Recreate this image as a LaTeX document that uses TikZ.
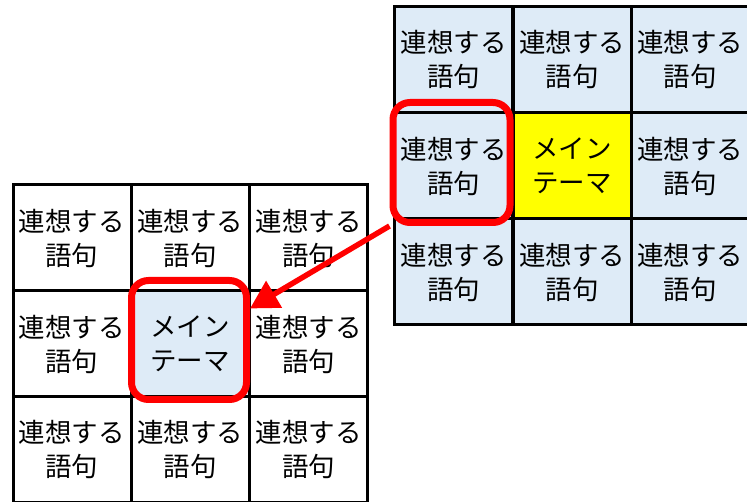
\documentclass[tikz,border=0pt]{standalone}
\usepackage{fontspec}
\setmainfont{Noto Sans CJK JP}
\usetikzlibrary{arrows.meta,calc}
\definecolor{cellblue}{HTML}{DEEBF7}
\definecolor{hlred}{HTML}{FF0000}
\definecolor{mainyellow}{HTML}{FFFF00}
\tikzset{
  cell/.style={draw=black, line width=3pt, minimum width=118pt, minimum height=106pt,
    inner sep=0pt, align=center, font=\fontsize{26.5}{34}\selectfont, text=black},
  bluecell/.style={cell, fill=cellblue},
  whitecell/.style={cell, fill=white},
  yellowcell/.style={cell, fill=mainyellow},
  redbox/.style={draw=hlred, line width=7pt, rounded corners=17pt, inner sep=0pt},
  redarrow/.style={draw=hlred, line width=5.5pt, -{Triangle[length=28pt,width=30pt]}}
}
\begin{document}
\begin{tikzpicture}[x=1pt,y=-1pt]
\useasboundingbox (0,0) rectangle (747,502);
% right grid
\foreach \c/\x in {1/453.5,2/572,3/690}{
  \foreach \r/\y in {1/60,2/166,3/272}{
    \ifnum\c=2 \ifnum\r=2
      \node[yellowcell] (R\c\r) at (\x,\y) {メイン\\テーマ};
    \else
      \node[bluecell] (R\c\r) at (\x,\y) {連想する\\語句};
    \fi\else
      \node[bluecell] (R\c\r) at (\x,\y) {連想する\\語句};
    \fi
  }
}
% left grid
\foreach \c/\x in {1/72,2/190,3/308.5}{
  \foreach \r/\y in {1/238,2/344,3/449.5}{
    \ifnum\c=2 \ifnum\r=2
      \node[bluecell] (L\c\r) at (\x,\y) {メイン\\テーマ};
    \else
      \node[whitecell] (L\c\r) at (\x,\y) {連想する\\語句};
    \fi\else
      \node[whitecell] (L\c\r) at (\x,\y) {連想する\\語句};
    \fi
  }
}
% highlight boxes
\node[redbox, minimum width=117pt, minimum height=120pt] (hr) at (451.5,162.5) {};
\node[redbox, minimum width=115pt, minimum height=119pt] (hl) at (189,340) {};
\coordinate (tip) at ($(hl.north east)!0.25!(hl.south east)$);
\draw[redarrow] (hr.south west) -- (tip);
\end{tikzpicture}
\end{document}
